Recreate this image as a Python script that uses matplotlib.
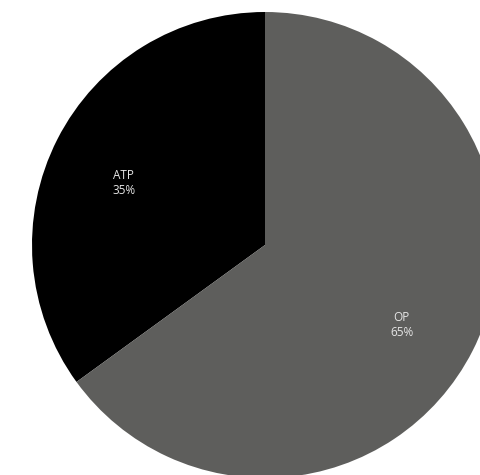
import matplotlib.pyplot as plt

labels = ['ATP', 'OP']
shares = [35, 65]
colors = ['#000000', '#5e5e5c']

fig = plt.figure(figsize=(4.8, 4.75), dpi=100)
# pie centre at (265, 245) px, radius ~233 px
ax = fig.add_axes([32 / 480, (230 - 233) / 475, 466 / 480, 466 / 475])

wedges, texts = ax.pie(shares, colors=colors, startangle=90, counterclock=True,
                       labels=[f'{l}\n{v}%' for l, v in zip(labels, shares)],
                       labeldistance=0.67, radius=1,
                       textprops=dict(color='#e6e6e6', fontsize=8.5, ha='center',
                                      va='center', family='Open Sans', linespacing=1.2))
for w in wedges:
    w.set_clip_on(False)
# labels sit a little lower than the default spot
for t in texts:
    x, y = t.get_position()
    t.set_position((x - 0.01, y - 0.04))
ax.set_xlim(-1, 1)
ax.set_ylim(-1, 1)
ax.set_aspect('equal')
ax.axis('off')

fig.savefig('out.png', dpi=100)
